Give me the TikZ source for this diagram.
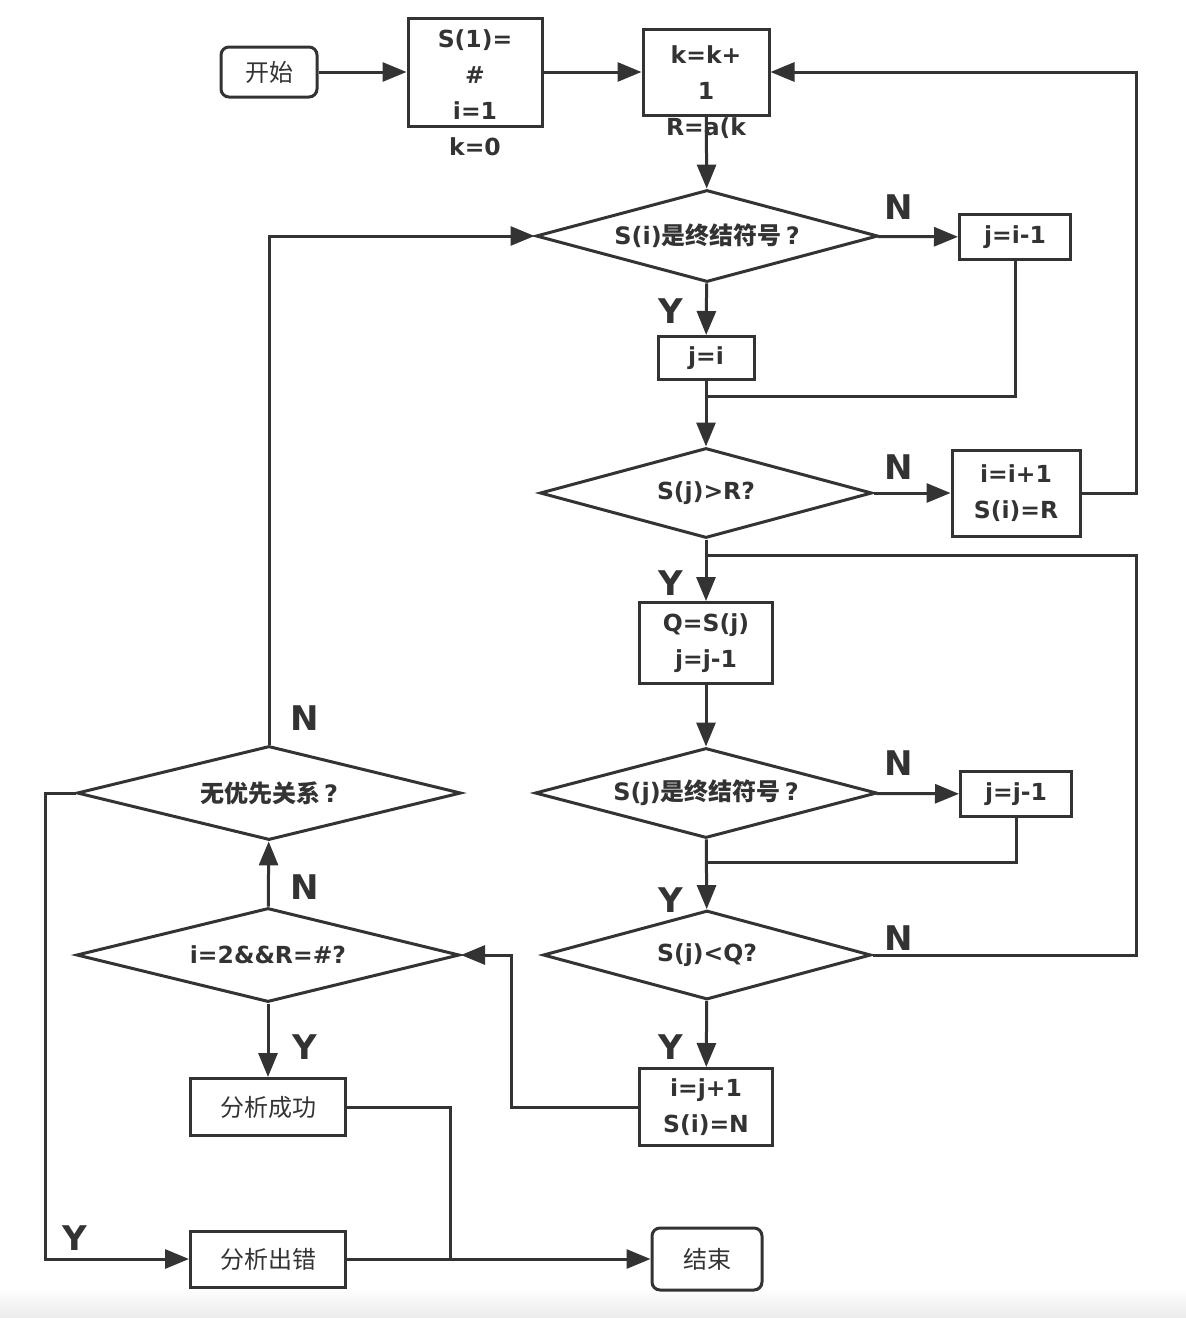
\documentclass[tikz,border=0pt]{standalone}
\usepackage{fontspec}
\setmainfont{Noto Sans CJK SC}
\newfontfamily\latf{DejaVu Sans}
\usetikzlibrary{shapes.geometric,arrows.meta}
\definecolor{linegray}{HTML}{333333}

\begin{document}
\begin{tikzpicture}[
    x=1pt, y=-1pt,
    proc_box/.style={rectangle, draw=linegray, line width=3pt, fill=white, inner sep=0pt, font=\latf\fontsize{23.5}{36}\selectfont\bfseries, text=linegray, align=center},
    term_box/.style={rectangle, rounded corners=8pt, draw=linegray, line width=3pt, fill=white, inner sep=0pt, font=\fontsize{24}{28}\selectfont, text=linegray},
    dec_node/.style={diamond, draw=linegray, line width=3pt, fill=white, inner sep=0pt, aspect=3.7, font=\fontsize{24}{28}\selectfont\bfseries, text=linegray},
    box_text/.style={font=\latf\fontsize{23.5}{36}\selectfont\bfseries, text=linegray, align=center, inner sep=0pt},
    flow/.style={-{Triangle[length=24pt, width=19pt]}, line width=3pt, draw=linegray},
    link/.style={line width=3pt, draw=linegray},
    yn/.style={font=\latf\fontsize{34}{34}\selectfont\bfseries, text=linegray}
]
\useasboundingbox (0,0) rectangle (1186,1318);
\shade[top color=white, bottom color=black!8] (0,1288) rectangle (1186,1318);

\node[term_box, minimum width=96, minimum height=50] (start) at (269,72) {开始};
\node[proc_box, minimum width=134, minimum height=108] (init) at (475,72) {};
\node[box_text] (init_txt) at (475,93) {S(1)=\\\#\\i=1\\k=0};
\node[proc_box, minimum width=126, minimum height=86] (kbox) at (706,72) {};
\node[box_text] (kbox_txt) at (706,92) {k=k+\\1\\R=a(k};

\node[dec_node, minimum width=342, minimum height=92] (d1) at (707,236) {{\latf S(i)}是终结符号\,{\latf ?}};
\node[proc_box, minimum width=111, minimum height=45] (jim1) at (1015,237) {j=i-1};
\node[proc_box, minimum width=96, minimum height=43] (ji) at (706,358) {j=i};
\node[dec_node, font=\latf\fontsize{23.5}{28}\selectfont\bfseries, minimum width=332, minimum height=90] (d2) at (706,493) {S(j)>R?};
\node[proc_box, minimum width=128, minimum height=86] (inc) at (1016,493) {i=i+1\\S(i)=R};
\node[proc_box, minimum width=133, minimum height=81] (qbox) at (706,643) {Q=S(j)\\j=j-1};
\node[dec_node, minimum width=342, minimum height=90] (d3) at (706,793) {{\latf S(j)}是终结符号\,{\latf ?}};
\node[proc_box, minimum width=111, minimum height=45] (jjm1) at (1016,794) {j=j-1};
\node[dec_node, font=\latf\fontsize{23.5}{28}\selectfont\bfseries, minimum width=328, minimum height=89] (d4) at (707,955) {S(j)<Q?};
\node[proc_box, minimum width=133, minimum height=77] (ijp) at (706,1107) {i=j+1\\S(i)=N};

\node[dec_node, minimum width=384, minimum height=94] (d6) at (269,793) {无优先关系\,{\latf ?}};
\node[dec_node, font=\latf\fontsize{23.5}{28}\selectfont\bfseries, minimum width=383, minimum height=94] (d5) at (268,955) {i=2\&\&R=\#?};
\node[term_box, rounded corners=0pt, minimum width=155, minimum height=57] (succ) at (268,1107) {分析成功};
\node[term_box, rounded corners=0pt, minimum width=155, minimum height=56] (err) at (268,1259) {分析出错};
\node[term_box, minimum width=110, minimum height=62] (end) at (707,1259) {结束};

\coordinate (join1) at (706,396);
\coordinate (join2) at (706,555);
\coordinate (join3) at (706,862);
\coordinate (join4) at (450,1258);

\draw[flow] (start) -- (init);
\draw[flow] (init) -- (kbox);
\draw[flow] (kbox) -- (d1);
\draw[flow] (d1) -- (jim1);
\draw[flow] (d1) -- (ji);
\draw[link] (jim1.south) |- (join1);
\draw[flow] (ji) -- (d2);
\draw[flow] (d2) -- (inc);
\draw[flow] (inc.east) -- ++(55,0) |- (kbox.east);
\draw[flow] (d2) -- (qbox);
\draw[flow] (qbox) -- (d3);
\draw[flow] (d3) -- (jjm1);
\draw[link] (jjm1.south) |- (join3);
\draw[flow] (d3) -- (d4);
\draw[link] (d4.east) -- ++(264,0) |- (join2);
\draw[flow] (d4) -- (ijp);
\draw[flow] (ijp.west) -- ++(-127,0) |- (d5.east);
\draw[flow] (d5) -- (d6);
\draw[flow] (d6.north) |- (d1.west);
\draw[flow] (d6.west) -- ++(-30,0) |- (err.west);
\draw[flow] (d5) -- (succ);
\draw[link] (succ.east) -| (join4);
\draw[flow] (err) -- (end);

\node[yn] (n1) at (899,207) {N};
\node[yn] (y1) at (671,311) {Y};
\node[yn] (n2) at (899,467) {N};
\node[yn] (y2) at (671,583) {Y};
\node[yn] (n3) at (899,763) {N};
\node[yn] (y3) at (671,900) {Y};
\node[yn] (n4) at (899,938) {N};
\node[yn] (y4) at (671,1047) {Y};
\node[yn] (n5) at (305,718) {N};
\node[yn] (n6) at (305,887) {N};
\node[yn] (y5) at (305,1047) {Y};
\node[yn] (y6) at (75,1238) {Y};
\end{tikzpicture}
\end{document}
